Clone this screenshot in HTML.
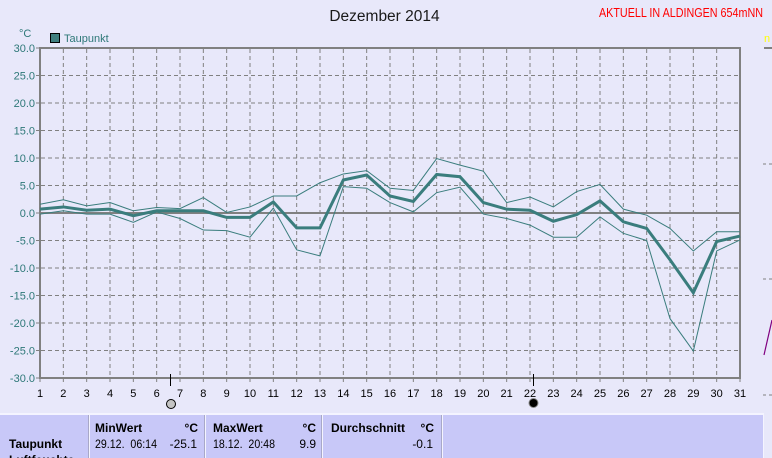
<!DOCTYPE html>
<html><head><meta charset="utf-8"><style>
html,body{margin:0;padding:0;background:#e8e8fa;}
svg{display:block;font-family:"Liberation Sans",sans-serif;}
</style></head><body>
<svg width="772" height="458" viewBox="0 0 772 458" xmlns="http://www.w3.org/2000/svg">
<rect width="772" height="458" fill="#e8e8fa"/>
<text x="384.5" y="21" font-size="15.5" text-anchor="middle" fill="#1a1a1a">Dezember 2014</text>
<text x="599" y="17" font-size="12.5" fill="#ff0000" textLength="164" lengthAdjust="spacingAndGlyphs">AKTUELL IN ALDINGEN 654mNN</text>
<text x="19" y="37" font-size="11" fill="#2e7878">°C</text>
<rect x="50.5" y="33.5" width="9" height="9" fill="#3f7f7f" stroke="#000" stroke-width="1"/>
<text x="64" y="42" font-size="11" fill="#2e7878">Taupunkt</text>
<g stroke="#808080" stroke-width="1" stroke-dasharray="4,3" fill="none">
<path d="M63.33 49V378M86.67 49V378M110 49V378M133.33 49V378M156.67 49V378M180 49V378M203.33 49V378M226.67 49V378M250 49V378M273.33 49V378M296.67 49V378M320 49V378M343.33 49V378M366.67 49V378M390 49V378M413.33 49V378M436.67 49V378M460 49V378M483.33 49V378M506.67 49V378M530 49V378M553.33 49V378M576.67 49V378M600 49V378M623.33 49V378M646.67 49V378M670 49V378M693.33 49V378M716.67 49V378"/>
<path d="M41 75.5H740M41 103H740M41 130.5H740M41 158H740M41 185.5H740M41 240.5H740M41 268H740M41 295.5H740M41 323H740M41 350.5H740"/>
</g>
<g stroke="#808080" stroke-width="1">
<path d="M36 48H40M36 75.5H40M36 103H40M36 130.5H40M36 158H40M36 185.5H40M36 213H40M36 240.5H40M36 268H40M36 295.5H40M36 323H40M36 350.5H40M36 378H40"/>
<path d="M40 378V382M63.33 378V382M86.67 378V382M110 378V382M133.33 378V382M156.67 378V382M180 378V382M203.33 378V382M226.67 378V382M250 378V382M273.33 378V382M296.67 378V382M320 378V382M343.33 378V382M366.67 378V382M390 378V382M413.33 378V382M436.67 378V382M460 378V382M483.33 378V382M506.67 378V382M530 378V382M553.33 378V382M576.67 378V382M600 378V382M623.33 378V382M646.67 378V382M670 378V382M693.33 378V382M716.67 378V382M740 378V382"/>
</g>
<g stroke="#808080" stroke-width="2" fill="none">
<path d="M40 47V379M39 48H741M740 47V379M39 378H741M40 213H740"/>
</g>
<g transform="translate(40,213) scale(23.3333,-5.5)" fill="none" stroke="#3a7d7d" stroke-linejoin="miter">
<polyline vector-effect="non-scaling-stroke" stroke-width="1" points="0,1.6 1,2.4 2,1.3 3,1.9 4,0.4 5,1.0 6,0.8 7,2.8 8,0.1 9,1.1 10,3.1 11,3.1 12,5.5 13,7.1 14,7.7 15,4.5 16,4.1 17,9.9 18,8.7 19,7.6 20,1.9 21,2.9 22,1.1 23,3.9 24,5.2 25,0.7 26,-0.4 27,-2.8 28,-6.9 29,-3.4 30,-3.4"/>
<polyline vector-effect="non-scaling-stroke" stroke-width="1" points="0,-0.2 1,0.4 2,-0.2 3,-0.2 4,-1.7 5,0.2 6,-1.0 7,-3.1 8,-3.2 9,-4.4 10,0.9 11,-6.7 12,-7.8 13,4.8 14,4.5 15,1.9 16,0.2 17,3.7 18,4.7 19,-0.2 20,-1.0 21,-2.2 22,-4.4 23,-4.4 24,-0.7 25,-3.7 26,-5.0 27,-19.2 28,-25.1 29,-6.9 30,-4.9"/>
<polyline vector-effect="non-scaling-stroke" stroke-width="3" points="0,0.7 1,1.1 2,0.5 3,0.7 4,-0.5 5,0.4 6,0.4 7,0.4 8,-0.8 9,-0.8 10,2.0 11,-2.7 12,-2.7 13,6.0 14,6.9 15,3.1 16,2.1 17,7.0 18,6.6 19,1.9 20,0.7 21,0.5 22,-1.5 23,-0.3 24,2.2 25,-1.6 26,-2.8 27,-8.5 28,-14.5 29,-5.2 30,-4.2"/>
</g>
<g font-size="11" fill="#2e7878" text-anchor="end">
<text x="35" y="52">30.0</text><text x="35" y="79.5">25.0</text><text x="35" y="107">20.0</text><text x="35" y="134.5">15.0</text><text x="35" y="162">10.0</text><text x="35" y="189.5">5.0</text><text x="35" y="217">0.0</text><text x="35" y="244.5">-5.0</text><text x="35" y="272">-10.0</text><text x="35" y="299.5">-15.0</text><text x="35" y="327">-20.0</text><text x="35" y="354.5">-25.0</text><text x="35" y="382">-30.0</text>
</g>
<g font-size="11" fill="#000" text-anchor="middle">
<text x="40" y="397">1</text><text x="63.33" y="397">2</text><text x="86.67" y="397">3</text><text x="110" y="397">4</text><text x="133.33" y="397">5</text><text x="156.67" y="397">6</text><text x="180" y="397">7</text><text x="203.33" y="397">8</text><text x="226.67" y="397">9</text><text x="250" y="397">10</text><text x="273.33" y="397">11</text><text x="296.67" y="397">12</text><text x="320" y="397">13</text><text x="343.33" y="397">14</text><text x="366.67" y="397">15</text><text x="390" y="397">16</text><text x="413.33" y="397">17</text><text x="436.67" y="397">18</text><text x="460" y="397">19</text><text x="483.33" y="397">20</text><text x="506.67" y="397">21</text><text x="530" y="397">22</text><text x="553.33" y="397">23</text><text x="576.67" y="397">24</text><text x="600" y="397">25</text><text x="623.33" y="397">26</text><text x="646.67" y="397">27</text><text x="670" y="397">28</text><text x="693.33" y="397">29</text><text x="716.67" y="397">30</text><text x="740" y="397">31</text>
</g>
<path d="M170.5 374V386M533.5 374V386" stroke="#000" stroke-width="1"/>
<circle cx="171" cy="404" r="4.5" fill="#c4c4c4" stroke="#000" stroke-width="1"/>
<circle cx="533.5" cy="403" r="4.5" fill="#000" stroke="#888" stroke-width="1"/>
<text x="764" y="42" font-size="11" fill="#ffff00">n</text>
<path d="M764 48H772" stroke="#808080" stroke-width="2"/>
<path d="M763 164H772M763 279H772M763 395H772" stroke="#808080" stroke-width="1" stroke-dasharray="3,3"/>
<path d="M764 355L772 320" stroke="#800080" stroke-width="1.2"/>
<rect x="0" y="413" width="764" height="45" fill="#f4f4ff"/>
<rect x="0" y="415" width="88" height="43" fill="#c8c8f8"/>
<rect x="90" y="415" width="114" height="43" fill="#c8c8f8"/>
<rect x="206" y="415" width="115" height="43" fill="#c8c8f8"/>
<rect x="323" y="415" width="118" height="43" fill="#c8c8f8"/>
<rect x="443" y="415" width="320" height="43" fill="#c8c8f8"/>
<path d="M88.5 415V458M204.5 415V458M321.5 415V458M441.5 415V458" stroke="#a8a8c8" stroke-width="1"/>
<g font-size="12" fill="#000">
<text x="9" y="448" font-weight="bold">Taupunkt</text>
<text x="9" y="464" font-weight="bold">Luftfeuchte</text>
<text x="95" y="432" font-weight="bold">MinWert</text>
<text x="198" y="432" font-weight="bold" text-anchor="end">°C</text>
<text x="95" y="448" xml:space="preserve" textLength="62" lengthAdjust="spacingAndGlyphs">29.12.  06:14</text>
<text x="197" y="448" text-anchor="end">-25.1</text>
<text x="213" y="432" font-weight="bold">MaxWert</text>
<text x="316" y="432" font-weight="bold" text-anchor="end">°C</text>
<text x="213" y="448" xml:space="preserve" textLength="62" lengthAdjust="spacingAndGlyphs">18.12.  20:48</text>
<text x="316" y="448" text-anchor="end">9.9</text>
<text x="331" y="432" font-weight="bold">Durchschnitt</text>
<text x="434" y="432" font-weight="bold" text-anchor="end">°C</text>
<text x="433" y="448" text-anchor="end">-0.1</text>
</g>
</svg>
</body></html>
